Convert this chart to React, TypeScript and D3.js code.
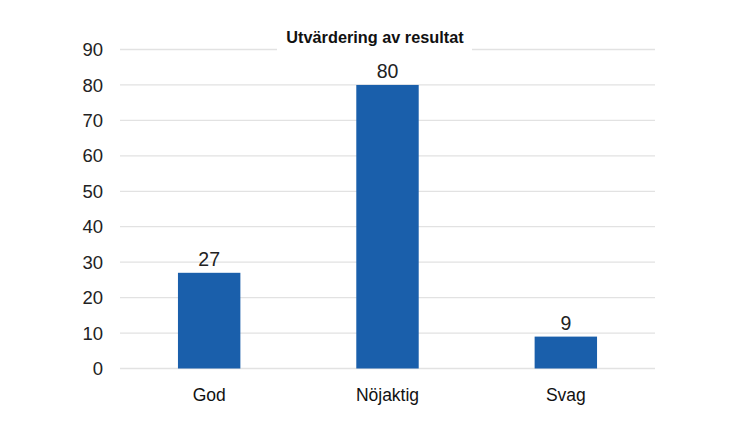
import React from "react";
import * as d3 from "d3";

const categories = ["God", "Nöjaktig", "Svag"];
const values = [27, 80, 9];
const yTicks = [0, 10, 20, 30, 40, 50, 60, 70, 80, 90];
const title = "Utvärdering av resultat";

export default function App() {
  const W = 750, H = 436;
  const left = 120, right = 655, top = 49.5, bottom = 368.5;
  const x = d3.scaleBand<string>().domain(categories).range([left, right]).paddingInner(0.65).paddingOuter(0.325);
  const y = d3.scaleLinear().domain([0, 90]).range([bottom, top]);
  const font = "'Liberation Sans', Arial, sans-serif";
  return (
    <svg width={W} height={H} style={{ position: "absolute", left: 0, top: 0, background: "#fff" }}>
      {yTicks.map((t) => (
        <g key={t}>
          <line x1={left} x2={right} y1={y(t)} y2={y(t)} stroke="#e2e2e2" strokeWidth={1.3} />
          <text x={103} y={y(t)} dy="0.36em" textAnchor="end" fontFamily={font} fontSize={18.5} fill="#222">{t}</text>
        </g>
      ))}
      <rect x={277} y={26} width={195} height={28} fill="#fff" />
      <text x={375} y={43} textAnchor="middle" fontFamily={font} fontSize={16.3} fontWeight="bold" fill="#111">{title}</text>
      {categories.map((c, i) => (
        <g key={c}>
          <rect x={x(c)} y={y(values[i])} width={x.bandwidth()} height={y(0) - y(values[i])} fill="#1a5fab" />
          <text x={x(c)! + x.bandwidth() / 2} y={y(values[i]) - 7} textAnchor="middle" fontFamily={font} fontSize={19.5} fill="#222">{values[i]}</text>
          <text x={x(c)! + x.bandwidth() / 2} y={401} textAnchor="middle" fontFamily={font} fontSize={17.5} fill="#111">{c}</text>
        </g>
      ))}
    </svg>
  );
}
